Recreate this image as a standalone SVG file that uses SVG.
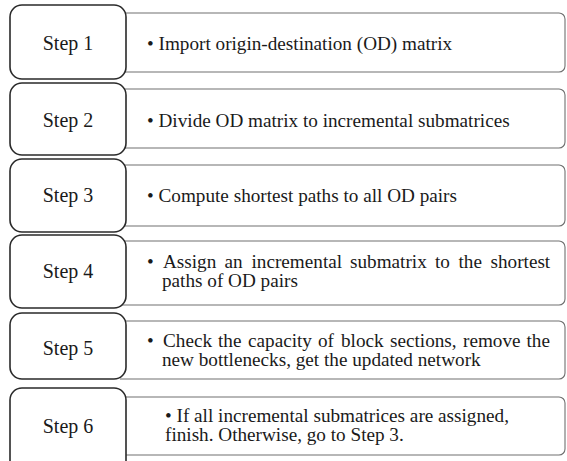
<svg xmlns="http://www.w3.org/2000/svg" width="567" height="461" viewBox="0 0 567 461">
<style>
.lb{fill:#fff;stroke:#2a2a2a;stroke-width:1.6}
.rb{fill:#fff;stroke:#707070;stroke-width:1.1}
.lt{font-family:"Liberation Serif","Times New Roman",serif;font-size:20px;fill:#1a1a1a;text-anchor:middle}
.bt{font-family:"Liberation Serif","Times New Roman",serif;font-size:19.2px;fill:#1a1a1a}
</style>
<rect width="567" height="461" fill="#fff"/>
<g id="step1">
<path class="rb" d="M120,13 H559 A6,6 0 0 1 565,19 V66 A6,6 0 0 1 559,72 H120"/>
<rect class="lb" x="10" y="5" width="116" height="74" rx="12"/>
<text class="lt" x="68" y="50">Step 1</text>
<text class="bt" x="147" y="50">• Import origin-destination (OD) matrix</text>
</g>
<g id="step2">
<path class="rb" d="M120,89 H559 A6,6 0 0 1 565,95 V142 A6,6 0 0 1 559,148 H120"/>
<rect class="lb" x="10" y="83" width="116" height="72" rx="12"/>
<text class="lt" x="68" y="127">Step 2</text>
<text class="bt" x="147" y="127">• Divide OD matrix to incremental submatrices</text>
</g>
<g id="step3">
<path class="rb" d="M120,165 H559 A6,6 0 0 1 565,171 V220 A6,6 0 0 1 559,226 H120"/>
<rect class="lb" x="10" y="159" width="116" height="73" rx="12"/>
<text class="lt" x="68" y="202">Step 3</text>
<text class="bt" x="147" y="202">• Compute shortest paths to all OD pairs</text>
</g>
<g id="step4">
<path class="rb" d="M120,241 H559 A6,6 0 0 1 565,247 V299 A6,6 0 0 1 559,305 H120"/>
<rect class="lb" x="10" y="235" width="116" height="73" rx="12"/>
<text class="lt" x="68" y="278">Step 4</text>
<text class="bt" y="268"><tspan x="147">•</tspan><tspan x="163">Assign</tspan><tspan x="224.5">an</tspan><tspan x="251.5">incremental</tspan><tspan x="350">submatrix</tspan><tspan x="435">to</tspan><tspan x="458.5">the</tspan><tspan x="490.5">shortest</tspan></text>
<text class="bt" x="162" y="287">paths of OD pairs</text>
</g>
<g id="step5">
<path class="rb" d="M120,321 H559 A6,6 0 0 1 565,327 V373 A6,6 0 0 1 559,379 H120"/>
<rect class="lb" x="10" y="313" width="116" height="66" rx="12"/>
<text class="lt" x="68" y="355">Step 5</text>
<text class="bt" y="347"><tspan x="147">•</tspan><tspan x="163">Check</tspan><tspan x="218">the</tspan><tspan x="248">capacity</tspan><tspan x="318">of</tspan><tspan x="341">block</tspan><tspan x="390">sections,</tspan><tspan x="463">remove</tspan><tspan x="526.5">the</tspan></text>
<text class="bt" x="162" y="366">new bottlenecks, get the updated network</text>
</g>
<g id="step6">
<path class="rb" d="M120,397 H559 A6,6 0 0 1 565,403 V449 A6,6 0 0 1 559,455 H120"/>
<rect class="lb" x="10" y="388" width="116" height="90" rx="12"/>
<text class="lt" x="68" y="433">Step 6</text>
<text class="bt" x="165" y="421.5">• If all incremental submatrices are assigned,</text>
<text class="bt" x="165" y="440.5">finish. Otherwise, go to Step 3.</text>
</g>
</svg>
